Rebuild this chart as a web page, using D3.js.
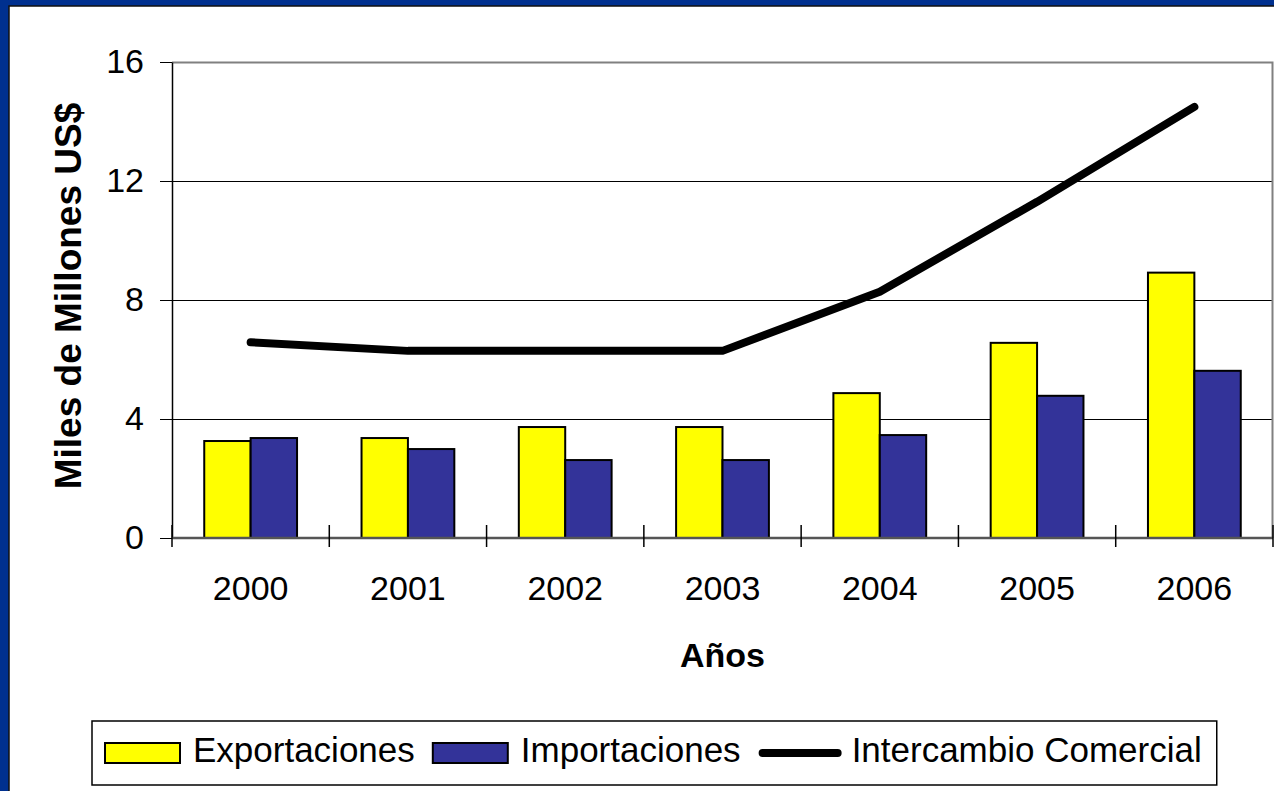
<!DOCTYPE html>
<html>
<head>
<meta charset="utf-8">
<script src="https://cdn.jsdelivr.net/npm/d3@7"></script>
<style>
  body { margin: 0; background: #fff; }
  svg text { font-family: Arial, "Liberation Sans", sans-serif; fill: #000; }
</style>
</head>
<body>
<div id="container"></div>
<script>
var years = ["2000", "2001", "2002", "2003", "2004", "2005", "2006"];
var exportaciones = [3.26, 3.36, 3.73, 3.73, 4.87, 6.56, 8.92];
var importaciones = [3.36, 2.99, 2.62, 2.62, 3.46, 4.78, 5.62];
var intercambio = [6.58, 6.29, 6.29, 6.29, 8.28, 11.3, 14.49];
var yTicks = [0, 4, 8, 12, 16];
var seriesNames = ["Exportaciones", "Importaciones", "Intercambio Comercial"];

var W = 1274, H = 791;
var plot = {left: 172, right: 1273, top: 62, bottom: 538};

var svg = d3.select("#container").append("svg")
    .attr("width", W)
    .attr("height", H);

// slide frame
svg.append("rect").attr("x", 0).attr("y", 0).attr("width", W).attr("height", H).attr("fill", "#00308F");
svg.append("rect").attr("x", 9).attr("y", 6).attr("width", W).attr("height", H)
    .attr("fill", "#fff").attr("stroke", "#111").attr("stroke-width", 1.5);

var x = d3.scaleBand().domain(years).range([plot.left, plot.right]);
var x1 = d3.scaleBand().domain(["exp", "imp"]).range([x.bandwidth() * 0.205, x.bandwidth() * 0.795]);
var y = d3.scaleLinear().domain([0, 16]).range([plot.bottom, plot.top]);

// grid lines
svg.append("g").selectAll("line")
    .data(yTicks.filter(function (d) { return d > 0 && d < 16; }))
    .enter().append("line")
    .attr("x1", plot.left).attr("x2", plot.right)
    .attr("y1", function (d) { return y(d) + 0.5; })
    .attr("y2", function (d) { return y(d) + 0.5; })
    .attr("stroke", "#000").attr("stroke-width", 1);

// plot area border top / right
svg.append("path")
    .attr("d", "M" + plot.left + "," + (plot.top + 0.5) + "H" + (plot.right - 0.5) + "V" + plot.bottom)
    .attr("fill", "none").attr("stroke", "#808080").attr("stroke-width", 2);

// bars
var groups = svg.append("g").selectAll("g")
    .data(years)
    .enter().append("g")
    .attr("transform", function (d) { return "translate(" + x(d) + ",0)"; });

groups.append("rect")
    .attr("x", x1("exp"))
    .attr("y", function (d, i) { return y(exportaciones[i]); })
    .attr("width", x1.bandwidth())
    .attr("height", function (d, i) { return y(0) - y(exportaciones[i]); })
    .attr("fill", "#FFFF00").attr("stroke", "#000").attr("stroke-width", 2);

groups.append("rect")
    .attr("x", x1("imp"))
    .attr("y", function (d, i) { return y(importaciones[i]); })
    .attr("width", x1.bandwidth())
    .attr("height", function (d, i) { return y(0) - y(importaciones[i]); })
    .attr("fill", "#333399").attr("stroke", "#000").attr("stroke-width", 2);

// y axis
var yAxis = svg.append("g")
    .attr("transform", "translate(" + plot.left + ",0)")
    .call(d3.axisLeft(y).tickValues(yTicks).tickSize(12).tickPadding(16).tickSizeOuter(0));
yAxis.select(".domain").attr("stroke", "#000").attr("stroke-width", 1.5);
yAxis.selectAll(".tick line").attr("stroke", "#000");
yAxis.selectAll(".tick text").attr("font-size", 34).attr("font-family", "Arial, 'Liberation Sans', sans-serif");

// x axis
var xAxis = svg.append("g")
    .attr("transform", "translate(0," + plot.bottom + ")");
xAxis.append("line")
    .attr("x1", plot.left).attr("x2", plot.right)
    .attr("stroke", "#555").attr("stroke-width", 2.5);
var bounds = years.map(function (d) { return x(d); }).concat([plot.right]);
xAxis.selectAll("line.tick")
    .data(bounds)
    .enter().append("line")
    .attr("class", "tick")
    .attr("x1", function (d) { return d; }).attr("x2", function (d) { return d; })
    .attr("y1", -13).attr("y2", 9)
    .attr("stroke", "#000").attr("stroke-width", 1.5);
xAxis.selectAll("text")
    .data(years)
    .enter().append("text")
    .attr("x", function (d) { return x(d) + x.bandwidth() / 2; })
    .attr("y", 62)
    .attr("text-anchor", "middle")
    .attr("font-size", 34)
    .text(function (d) { return d; });

// line
var line = d3.line()
    .x(function (d, i) { return x(years[i]) + x.bandwidth() / 2; })
    .y(function (d) { return y(d); });

svg.append("path")
    .datum(intercambio)
    .attr("d", line)
    .attr("fill", "none").attr("stroke", "#000").attr("stroke-width", 8)
    .attr("stroke-linecap", "round").attr("stroke-linejoin", "round");

// axis titles
svg.append("text")
    .attr("transform", "translate(81," + ((plot.top + plot.bottom) / 2 - 4) + ") rotate(-90)")
    .attr("text-anchor", "middle")
    .attr("font-size", 37).attr("font-weight", "bold")
    .text("Miles de Millones US$");

svg.append("text")
    .attr("x", (plot.left + plot.right) / 2)
    .attr("y", 667)
    .attr("text-anchor", "middle")
    .attr("font-size", 34).attr("font-weight", "bold")
    .text("Años");

// legend
var legend = svg.append("g");
var box = legend.append("rect")
    .attr("fill", "#fff").attr("stroke", "#000").attr("stroke-width", 1.5);
var lx = 105, swW = 75;
seriesNames.forEach(function (name, i) {
    if (i < 2) {
        legend.append("rect")
            .attr("x", lx).attr("y", 743).attr("width", swW).attr("height", 20)
            .attr("fill", i === 0 ? "#FFFF00" : "#333399")
            .attr("stroke", "#000").attr("stroke-width", 2);
    } else {
        legend.append("line")
            .attr("x1", lx + 4).attr("x2", lx + swW + 4)
            .attr("y1", 753).attr("y2", 753)
            .attr("stroke", "#000").attr("stroke-width", 8)
            .attr("stroke-linecap", "round");
        lx += 5;
    }
    var t = legend.append("text")
        .attr("x", lx + swW + 13).attr("y", 762)
        .attr("font-size", 35)
        .text(name);
    lx = lx + swW + 13 + t.node().getComputedTextLength() + 18;
});
box.attr("x", 92).attr("y", 721).attr("width", lx - 18 + 15 - 92).attr("height", 64);
</script>
</body>
</html>
